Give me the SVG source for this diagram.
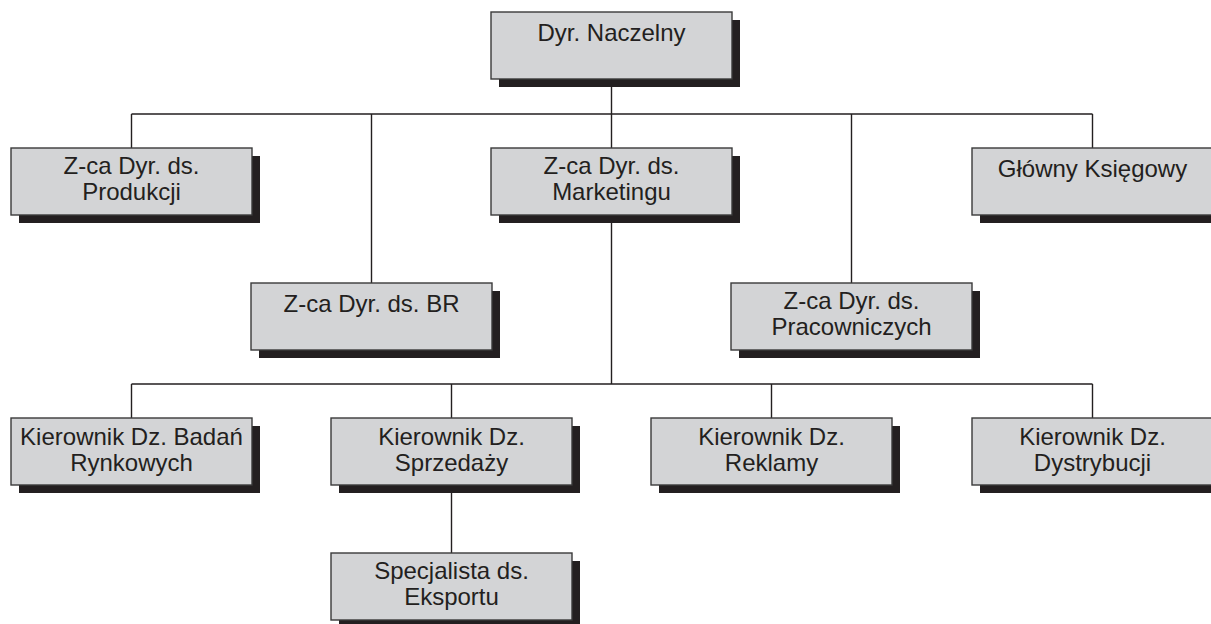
<svg xmlns="http://www.w3.org/2000/svg" width="1211" height="624" viewBox="0 0 1211 624">
  <style>
    .shadow { fill: #231f20; }
    .box { fill: #d3d4d6; stroke: #3a3a3a; stroke-width: 1.4; }
    .lbl { font-family: "Liberation Sans", Arial, sans-serif; font-size: 24px; fill: #231f20; text-anchor: middle; }
    .wire { fill: none; stroke: #231f20; stroke-width: 1.4; }
  </style>
  <defs>
    <g id="card">
      <rect class="shadow" x="8" y="8" width="241" height="67"/>
      <rect class="box" x="0" y="0" width="241" height="67"/>
    </g>
  </defs>

  <!-- connectors -->
  <g id="connectors">
    <path class="wire" d="M611.5 79 V114 M131.5 114 H1092.5 M131.5 114 V148 M371.5 114 V283 M611.5 114 V148 M851.5 114 V283 M1092.5 114 V148"/>
    <path class="wire" d="M611.5 215 V384 M131.5 384 H1092.5 M131.5 384 V418 M451.5 384 V418 M771.5 384 V418 M1092.5 384 V418"/>
    <path class="wire" d="M451.5 485 V553"/>
  </g>

  <g id="dyr-naczelny">
    <use href="#card" x="491" y="12"/>
    <text class="lbl" x="611.5" y="41">Dyr. Naczelny</text>
  </g>

  <g id="zca-produkcji">
    <use href="#card" x="11" y="148"/>
    <text class="lbl" x="131.5" y="174">Z-ca Dyr. ds.</text>
    <text class="lbl" x="131.5" y="200">Produkcji</text>
  </g>

  <g id="zca-marketingu">
    <use href="#card" x="491" y="148"/>
    <text class="lbl" x="611.5" y="174">Z-ca Dyr. ds.</text>
    <text class="lbl" x="611.5" y="200">Marketingu</text>
  </g>

  <g id="glowny-ksiegowy">
    <use href="#card" x="972" y="148"/>
    <text class="lbl" x="1092.5" y="177">Główny Księgowy</text>
  </g>

  <g id="zca-br">
    <use href="#card" x="251" y="283"/>
    <text class="lbl" x="371.5" y="312">Z-ca Dyr. ds. BR</text>
  </g>

  <g id="zca-pracowniczych">
    <use href="#card" x="731" y="283"/>
    <text class="lbl" x="851.5" y="309">Z-ca Dyr. ds.</text>
    <text class="lbl" x="851.5" y="335">Pracowniczych</text>
  </g>

  <g id="kier-badan">
    <use href="#card" x="11" y="418"/>
    <text class="lbl" x="131.5" y="445">Kierownik Dz. Badań</text>
    <text class="lbl" x="131.5" y="471">Rynkowych</text>
  </g>

  <g id="kier-sprzedazy">
    <use href="#card" x="331" y="418"/>
    <text class="lbl" x="451.5" y="445">Kierownik Dz.</text>
    <text class="lbl" x="451.5" y="471">Sprzedaży</text>
  </g>

  <g id="kier-reklamy">
    <use href="#card" x="651" y="418"/>
    <text class="lbl" x="771.5" y="445">Kierownik Dz.</text>
    <text class="lbl" x="771.5" y="471">Reklamy</text>
  </g>

  <g id="kier-dystrybucji">
    <use href="#card" x="972" y="418"/>
    <text class="lbl" x="1092.5" y="445">Kierownik Dz.</text>
    <text class="lbl" x="1092.5" y="471">Dystrybucji</text>
  </g>

  <g id="specjalista-eksportu">
    <use href="#card" x="331" y="553"/>
    <text class="lbl" x="451.5" y="579">Specjalista ds.</text>
    <text class="lbl" x="451.5" y="605">Eksportu</text>
  </g>
</svg>
